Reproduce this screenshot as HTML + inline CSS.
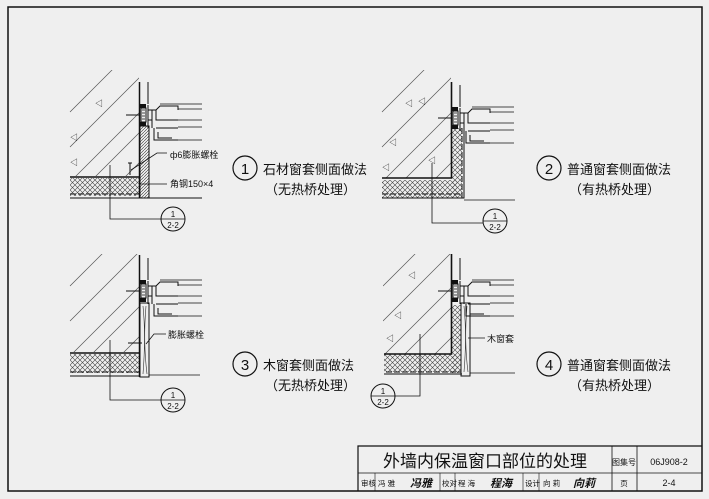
<!DOCTYPE html>
<html><head><meta charset="utf-8"><style>
html,body{margin:0;padding:0;background:#efefef;}
svg{display:block;}
text{font-family:"Liberation Sans","Noto Sans CJK SC",sans-serif;fill:#111;}
</style></head><body>
<svg width="709" height="499" viewBox="0 0 709 499" xmlns="http://www.w3.org/2000/svg">
<defs>
<pattern id="xh" width="5" height="5" patternUnits="userSpaceOnUse">
<path d="M0 0L5 5M5 0L0 5" stroke="#444" stroke-width="0.6"/>
</pattern>
<pattern id="dh" width="3" height="3" patternUnits="userSpaceOnUse">
<path d="M0 3L3 0" stroke="#333" stroke-width="0.6"/>
</pattern>
<g id="win">
<line x1="8" y1="-22" x2="8" y2="0" stroke="#111" stroke-width="1"/>
<rect x="0" y="0" width="6" height="4" fill="#111"/>
<rect x="1" y="4" width="5" height="14" fill="none" stroke="#111" stroke-width="1"/>
<path d="M2 6h3M2 9h3M2 12h3M2 15h3" stroke="#111" stroke-width="0.8"/>
<rect x="0" y="18" width="6" height="4" fill="#111"/>
<path d="M8 1v23M12 6v18M8 6h8l4-4h18v4M16 6v10h22M8 16h4M16 24h22M14 24v12h24M18 28v6h14" fill="none" stroke="#111" stroke-width="1"/>
<path d="M20 0h42M38 5h24M38 16h24M38 23h24M38 36h24" stroke="#111" stroke-width="0.8"/>
<line x1="-14" y1="11" x2="0" y2="11" stroke="#111" stroke-width="1"/>
</g>
<g id="hatch">
<path d="M0 30L55 -25M0 65L70 -5M0 100L70 30M20 100L70 50M50 100L70 80" stroke="#555" stroke-width="0.7"/>
</g>
</defs>
<rect x="8" y="7" width="694" height="484" fill="none" stroke="#111" stroke-width="1.5"/>

<!-- Detail 1 -->
<g>
<clipPath id="c1"><rect x="68" y="70" width="71" height="106"/></clipPath>
<g clip-path="url(#c1)"><use href="#hatch" x="70" y="82"/></g>
<text x="95" y="106" font-size="8">◁</text><text x="70" y="140" font-size="8">◁</text><text x="70" y="165" font-size="8">◁</text>
<line x1="139.5" y1="82" x2="139.5" y2="198" stroke="#111" stroke-width="1.5"/>
<use href="#win" x="140" y="104"/>
<rect x="140" y="126" width="9" height="72" fill="url(#dh)" stroke="#111" stroke-width="1"/>
<rect x="70" y="178" width="69" height="18" fill="url(#xh)"/>
<line x1="70" y1="177" x2="140" y2="177" stroke="#111" stroke-width="1.6"/>
<line x1="70" y1="194" x2="140" y2="194" stroke="#111" stroke-width="1" stroke-dasharray="6 2"/>
<line x1="70" y1="198" x2="202" y2="198" stroke="#111" stroke-width="1"/>
<path d="M130 163v12M128 163h4" stroke="#111"/>
<path d="M131 170l26-17h10M140 184h27" stroke="#111" stroke-width="0.8" fill="none"/>
<text x="170" y="158" font-size="9">ф6膨胀螺栓</text>
<text x="170" y="187" font-size="9">角钢150×4</text>
<path d="M110 165v54h51" stroke="#111" stroke-width="0.8" fill="none"/>
<circle cx="173" cy="219" r="12" fill="none" stroke="#111"/><line x1="161" y1="219" x2="185" y2="219" stroke="#111" stroke-width="0.8"/>
<text x="173" y="217" font-size="8" text-anchor="middle">1</text><text x="173" y="228" font-size="8" text-anchor="middle">2-2</text>
</g>

<!-- Detail 2 -->
<g>
<clipPath id="c2"><rect x="380" y="70" width="71" height="108"/></clipPath>
<g clip-path="url(#c2)"><use href="#hatch" x="382" y="82"/></g>
<text x="405" y="106" font-size="8">◁</text><text x="418" y="104" font-size="8">◁</text><text x="389" y="145" font-size="8">◁</text><text x="382" y="170" font-size="8">◁</text><text x="428" y="163" font-size="8">◁</text>
<rect x="452" y="128" width="10" height="70" fill="url(#xh)"/>
<rect x="382" y="180" width="75" height="18" fill="url(#xh)"/>
<path d="M451.5 82v96H382" stroke="#111" stroke-width="1.6" fill="none"/>
<path d="M462 128v70M382 194h78" stroke="#111" stroke-width="1" stroke-dasharray="6 2" fill="none"/>
<path d="M382 198h82v-70" stroke="#111" stroke-width="1" fill="none"/>
<line x1="464" y1="200" x2="515" y2="200" stroke="#111" stroke-width="0.8"/>
<use href="#win" x="452" y="107"/>
<path d="M432 163v60h51" stroke="#111" stroke-width="0.8" fill="none"/>
<circle cx="495" cy="221" r="12" fill="none" stroke="#111"/><line x1="483" y1="221" x2="507" y2="221" stroke="#111" stroke-width="0.8"/>
<text x="495" y="219" font-size="8" text-anchor="middle">1</text><text x="495" y="230" font-size="8" text-anchor="middle">2-2</text>
</g>

<!-- Detail 3 -->
<g>
<clipPath id="c3"><rect x="68" y="254" width="71" height="98"/></clipPath>
<g clip-path="url(#c3)"><use href="#hatch" x="70" y="256"/></g>
<line x1="139.5" y1="255" x2="139.5" y2="377" stroke="#111" stroke-width="1.5"/>
<use href="#win" x="140" y="280"/>
<rect x="140" y="303" width="9" height="74" fill="none" stroke="#111" stroke-width="1"/>
<path d="M143 306q3 30 0 68M146 306q-3 35 1 68" stroke="#333" stroke-width="0.6" fill="none"/>
<rect x="70" y="354" width="69" height="19" fill="url(#xh)"/>
<line x1="70" y1="353" x2="140" y2="353" stroke="#111" stroke-width="1.6"/>
<line x1="70" y1="372" x2="140" y2="372" stroke="#111" stroke-width="1" stroke-dasharray="6 2"/>
<line x1="70" y1="376" x2="140" y2="376" stroke="#111" stroke-width="1"/>
<line x1="149" y1="375" x2="200" y2="375" stroke="#111" stroke-width="0.8"/>
<path d="M128 343h14" stroke="#111"/>
<path d="M146 344l8-10h12" stroke="#111" stroke-width="0.8" fill="none"/>
<text x="168" y="338" font-size="9">膨胀螺栓</text>
<path d="M110 340v60h51" stroke="#111" stroke-width="0.8" fill="none"/>
<circle cx="173" cy="400" r="12" fill="none" stroke="#111"/><line x1="161" y1="400" x2="185" y2="400" stroke="#111" stroke-width="0.8"/>
<text x="173" y="398" font-size="8" text-anchor="middle">1</text><text x="173" y="409" font-size="8" text-anchor="middle">2-2</text>
</g>

<!-- Detail 4 -->
<g>
<clipPath id="c4"><rect x="383" y="254" width="68" height="100"/></clipPath>
<g clip-path="url(#c4)"><use href="#hatch" x="383" y="256"/></g>
<text x="408" y="278" font-size="8">◁</text><text x="394" y="318" font-size="8">◁</text><text x="386" y="341" font-size="8">◁</text>
<rect x="452" y="305" width="9" height="68" fill="url(#xh)"/>
<rect x="384" y="354" width="74" height="18" fill="url(#xh)"/>
<path d="M451.5 254v100H384" stroke="#111" stroke-width="1.6" fill="none"/>
<path d="M461 305v67H384" stroke="#111" stroke-width="1" stroke-dasharray="6 2" fill="none"/>
<path d="M384 374h78" stroke="#111" stroke-width="1" fill="none"/>
<rect x="461" y="303" width="9" height="73" fill="none" stroke="#111" stroke-width="1"/>
<path d="M464 306q3 30 0 66M467 306q-3 35 1 66" stroke="#333" stroke-width="0.6" fill="none"/>
<line x1="470" y1="373" x2="515" y2="373" stroke="#111" stroke-width="0.8"/>
<use href="#win" x="452" y="280"/>
<path d="M468 338h17" stroke="#111" stroke-width="0.8"/>
<text x="487" y="342" font-size="9">木窗套</text>
<path d="M420 334v62h-25" stroke="#111" stroke-width="0.8" fill="none"/>
<circle cx="383" cy="396" r="12" fill="none" stroke="#111"/><line x1="371" y1="396" x2="395" y2="396" stroke="#111" stroke-width="0.8"/>
<text x="383" y="394" font-size="8" text-anchor="middle">1</text><text x="383" y="405" font-size="8" text-anchor="middle">2-2</text>
</g>

<g font-size="13">
<circle cx="245" cy="168" r="12" fill="none" stroke="#111" stroke-width="1.2"/><text x="245" y="174" text-anchor="middle" font-size="15">1</text>
<text x="263" y="174">石材窗套侧面做法</text><text x="265" y="194">（无热桥处理）</text>
<circle cx="549" cy="168" r="12" fill="none" stroke="#111" stroke-width="1.2"/><text x="549" y="174" text-anchor="middle" font-size="15">2</text>
<text x="567" y="174">普通窗套侧面做法</text><text x="569" y="194">（有热桥处理）</text>
<circle cx="245" cy="364" r="12" fill="none" stroke="#111" stroke-width="1.2"/><text x="245" y="370" text-anchor="middle" font-size="15">3</text>
<text x="263" y="370">木窗套侧面做法</text><text x="265" y="390">（无热桥处理）</text>
<circle cx="549" cy="364" r="12" fill="none" stroke="#111" stroke-width="1.2"/><text x="549" y="370" text-anchor="middle" font-size="15">4</text>
<text x="567" y="370">普通窗套侧面做法</text><text x="569" y="390">（有热桥处理）</text>
</g>

<g stroke="#111" fill="none">
<path d="M358 491V446H702" stroke-width="1.2"/>
<line x1="358" y1="473" x2="702" y2="473" stroke-width="0.8"/>
<line x1="612" y1="446" x2="612" y2="491" stroke-width="0.8"/>
<line x1="637" y1="446" x2="637" y2="491" stroke-width="0.8"/>
<path d="M375 473v18M440 473v18M455 473v18M523 473v18M539 473v18" stroke-width="0.6"/>
</g>
<text x="485" y="467" font-size="17" text-anchor="middle">外墙内保温窗口部位的处理</text>
<text x="624" y="465" font-size="8" text-anchor="middle">图集号</text>
<text x="669" y="465" font-size="9" text-anchor="middle">06J908-2</text>
<g font-size="7.5">
<text x="361" y="486">审核</text><text x="378" y="486">冯 雅</text>
<text x="410" y="487" font-size="11" font-style="italic" font-weight="bold">冯雅</text>
<text x="442" y="486">校对</text><text x="458" y="486">程 海</text>
<text x="490" y="487" font-size="11" font-style="italic" font-weight="bold">程海</text>
<text x="525" y="486">设计</text><text x="543" y="486">向 莉</text>
<text x="573" y="487" font-size="11" font-style="italic" font-weight="bold">向莉</text>
<text x="624" y="486" text-anchor="middle">页</text>
<text x="669" y="486" font-size="9" text-anchor="middle">2-4</text>
</g>
</svg>
</body></html>
